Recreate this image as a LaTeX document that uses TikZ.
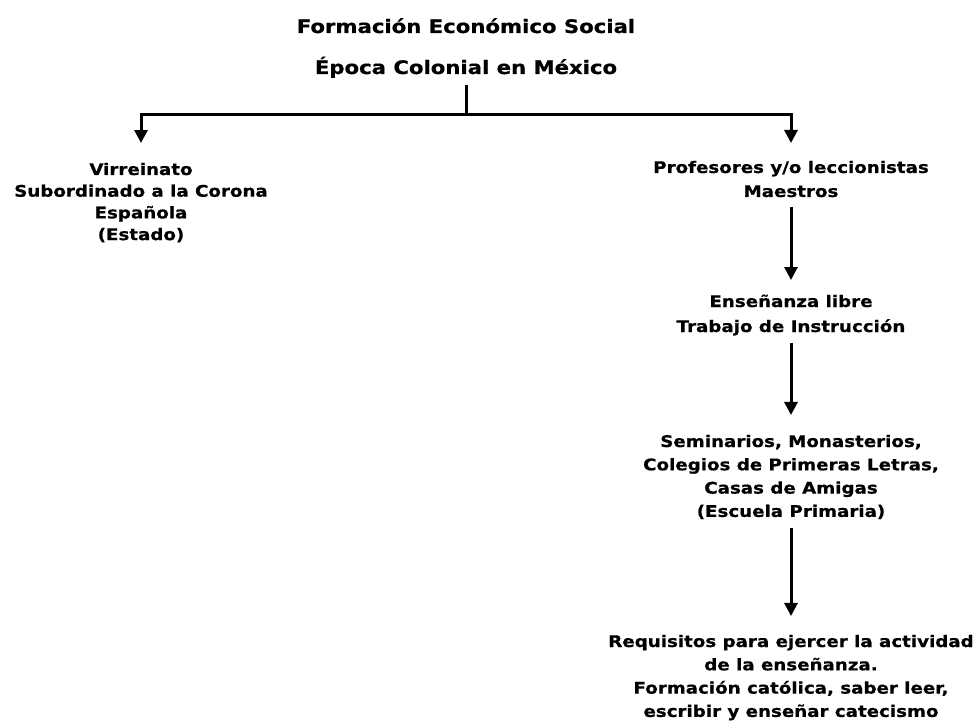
\documentclass[tikz,border=0pt]{standalone}
\usepackage{fontspec}
\setmainfont{DejaVu Sans}
\newfontfamily\vfont{DejaVu Sans Bold}[FakeStretch=1.14, FakeBold=0.6]
\usetikzlibrary{arrows.meta}
\tikzset{
  txt/.style={inner sep=0pt, outer sep=0pt, align=center, text=black},
  conn/.style={line width=3pt, draw=black, line join=miter},
  arr/.style={conn, -{Triangle[length=13pt,width=13pt]}},
}
\newcommand{\bodyfont}[1]{\vfont\fontsize{16}{#1}\selectfont}
\begin{document}
\begin{tikzpicture}[x=1pt,y=-1pt]
\useasboundingbox[fill=white] (0,0) rectangle (977,722);
\node[txt, anchor=north, font={\vfont\fontsize{18.6}{41}\selectfont}] (title) at (466,{33-28.7})
  {\strut Formación Económico Social\\Época Colonial en México\strut};
\coordinate (junc) at (466,115);
\node[txt, anchor=north, font={\bodyfont{21.7}}] (virr) at (141,{175-15.19})
  {\strut Virreinato\\Subordinado a la Corona\\Española\\(Estado)\strut};
\node[txt, anchor=north, font={\bodyfont{24}}] (prof) at (791,{173-16.8})
  {\strut Profesores y/o leccionistas\\Maestros\strut};
\node[txt, anchor=north, font={\bodyfont{25}}] (ens) at (791,{307-17.5})
  {\strut Enseñanza libre\\Trabajo de Instrucción\strut};
\node[txt, anchor=north, font={\bodyfont{23.3}}] (sem) at (791,{447-16.31})
  {\strut Seminarios, Monasterios,\\Colegios de Primeras Letras,\\Casas de Amigas\\(Escuela Primaria)\strut};
\node[txt, anchor=north, font={\bodyfont{23.3}}] (req) at (791,{647-16.31})
  {\strut Requisitos para ejercer la actividad\\de la enseñanza.\\Formación católica, saber leer,\\escribir y enseñar catecismo\strut};
\draw[conn] ([yshift=1.3pt]title.south) -- (junc);
\draw[arr] (junc) -| ([yshift=16.8pt]virr.north);
\draw[arr] (junc) -| ([yshift=13.2pt]prof.north);
\draw[arr] ([yshift=-2.8pt]prof.south) -- ([yshift=9.5pt]ens.north);
\draw[arr] ([yshift=-3.5pt]ens.south) -- ([yshift=15.7pt]sem.north);
\draw[arr] ([yshift=-4pt]sem.south) -- ([yshift=14.7pt]req.north);
\end{tikzpicture}
\end{document}
